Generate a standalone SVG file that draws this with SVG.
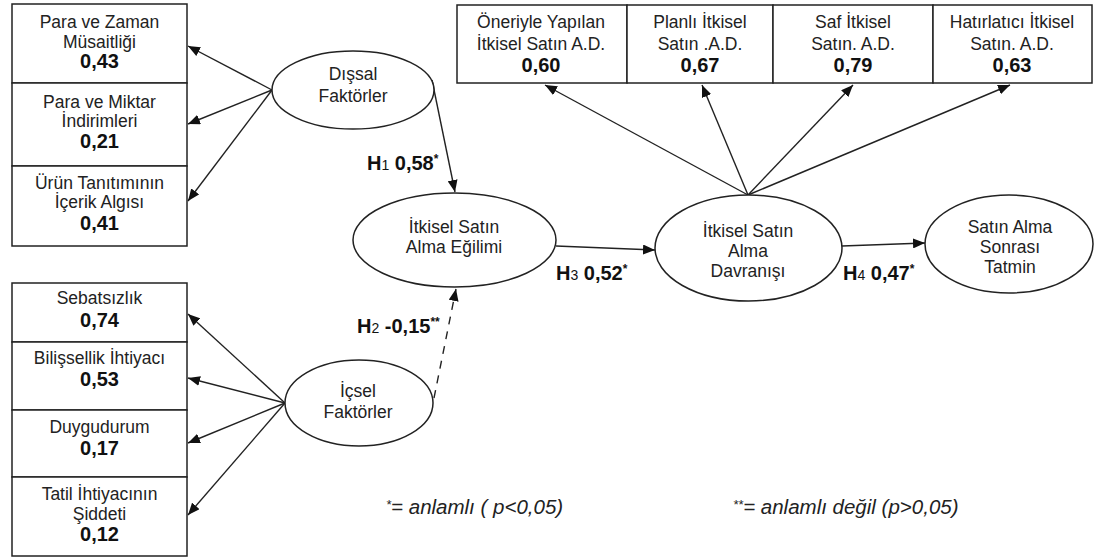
<svg xmlns="http://www.w3.org/2000/svg" width="1094" height="558" viewBox="0 0 1094 558">
<style>
.bg{fill:#fff}
.box{fill:#fff;stroke:#222;stroke-width:1.5}
.ell{fill:#fff;stroke:#222;stroke-width:1.5}
.t{font-family:"Liberation Sans",Arial,sans-serif;font-size:17.5px;fill:#222;text-anchor:middle}
.n{font-family:"Liberation Sans",Arial,sans-serif;font-size:20px;font-weight:bold;fill:#111;text-anchor:middle}
.h{font-family:"Liberation Sans",Arial,sans-serif;font-size:20px;font-weight:bold;fill:#111}
.lg{font-family:"Liberation Sans",Arial,sans-serif;font-size:20.5px;font-style:italic;fill:#222}
.c{stroke:#222;stroke-width:1.4;fill:none;marker-end:url(#ah)}
.d{stroke-dasharray:8 7}
</style>
<defs>
<marker id="ah" markerUnits="userSpaceOnUse" markerWidth="14" markerHeight="10" refX="12" refY="5" orient="auto">
<path d="M0,0 L12,5 L0,10 Z" fill="#111"/>
</marker>
</defs>
<rect class="bg" x="0" y="0" width="1094" height="558"/>

<g id="connectors">
<line class="c" x1="272" y1="90" x2="188" y2="46"/>
<line class="c" x1="272" y1="90" x2="188" y2="124"/>
<line class="c" x1="272" y1="90" x2="188" y2="201"/>
<line class="c" x1="432" y1="80" x2="455" y2="192"/>
<line class="c" x1="285" y1="403" x2="188" y2="314"/>
<line class="c" x1="285" y1="403" x2="188" y2="378"/>
<line class="c" x1="285" y1="403" x2="188" y2="443"/>
<line class="c" x1="285" y1="403" x2="188" y2="515"/>
<line class="c d" x1="434" y1="398" x2="456" y2="289"/>
<line class="c" x1="556" y1="246" x2="655" y2="250"/>
<line class="c" x1="748" y1="195" x2="545" y2="85"/>
<line class="c" x1="748" y1="195" x2="702" y2="85"/>
<line class="c" x1="748" y1="195" x2="853" y2="85"/>
<line class="c" x1="748" y1="195" x2="1010" y2="85"/>
<line class="c" x1="842" y1="246" x2="925" y2="243"/>
</g>

<g id="box-para-zaman">
<rect class="box" x="12" y="4" width="175" height="79"/>
<text class="t" x="99.5" y="28">Para ve Zaman</text>
<text class="t" x="99.5" y="48">Müsaitliği</text>
<text class="n" x="99.5" y="68">0,43</text>
</g>
<g id="box-para-miktar">
<rect class="box" x="12" y="83" width="175" height="83"/>
<text class="t" x="99.5" y="108">Para ve Miktar</text>
<text class="t" x="99.5" y="127">İndirimleri</text>
<text class="n" x="99.5" y="148">0,21</text>
</g>
<g id="box-urun">
<rect class="box" x="12" y="166" width="175" height="80"/>
<text class="t" x="99.5" y="189">Ürün Tanıtımının</text>
<text class="t" x="99.5" y="208">İçerik Algısı</text>
<text class="n" x="99.5" y="230">0,41</text>
</g>

<g id="box-sebat">
<rect class="box" x="12" y="283" width="175" height="59"/>
<text class="t" x="99.5" y="304">Sebatsızlık</text>
<text class="n" x="99.5" y="327">0,74</text>
</g>
<g id="box-bilis">
<rect class="box" x="12" y="342" width="175" height="68"/>
<text class="t" x="99.5" y="364">Bilişsellik İhtiyacı</text>
<text class="n" x="99.5" y="386">0,53</text>
</g>
<g id="box-duygu">
<rect class="box" x="12" y="410" width="175" height="67"/>
<text class="t" x="99.5" y="433">Duygudurum</text>
<text class="n" x="99.5" y="455">0,17</text>
</g>
<g id="box-tatil">
<rect class="box" x="12" y="477" width="175" height="79"/>
<text class="t" x="99.5" y="500">Tatil İhtiyacının</text>
<text class="t" x="99.5" y="520">Şiddeti</text>
<text class="n" x="99.5" y="541">0,12</text>
</g>

<g id="box-oneriyle">
<rect class="box" x="457" y="5" width="170" height="78"/>
<text class="t" x="541" y="28">Öneriyle Yapılan</text>
<text class="t" x="541" y="50">İtkisel Satın A.D.</text>
<text class="n" x="541" y="72">0,60</text>
</g>
<g id="box-planli">
<rect class="box" x="627" y="5" width="146" height="78"/>
<text class="t" x="700" y="28">Planlı İtkisel</text>
<text class="t" x="700" y="50">Satın .A.D.</text>
<text class="n" x="700" y="72">0,67</text>
</g>
<g id="box-saf">
<rect class="box" x="773" y="5" width="160" height="78"/>
<text class="t" x="853" y="28">Saf İtkisel</text>
<text class="t" x="853" y="50">Satın. A.D.</text>
<text class="n" x="853" y="72">0,79</text>
</g>
<g id="box-hatirlatici">
<rect class="box" x="933" y="5" width="159" height="78"/>
<text class="t" x="1012" y="28">Hatırlatıcı İtkisel</text>
<text class="t" x="1012" y="50">Satın. A.D.</text>
<text class="n" x="1012" y="72">0,63</text>
</g>

<g id="node-dissal">
<ellipse class="ell" cx="353" cy="90" rx="81" ry="39"/>
<text class="t" x="353" y="80">Dışsal</text>
<text class="t" x="353" y="102">Faktörler</text>
</g>
<g id="node-icsel">
<ellipse class="ell" cx="359" cy="403" rx="74" ry="43"/>
<text class="t" x="358" y="397">İçsel</text>
<text class="t" x="358" y="418">Faktörler</text>
</g>
<g id="node-egilim">
<ellipse class="ell" cx="454.5" cy="240" rx="101.5" ry="47"/>
<text class="t" x="454" y="233">İtkisel Satın</text>
<text class="t" x="454" y="253">Alma Eğilimi</text>
</g>
<g id="node-davranis">
<ellipse class="ell" cx="748.5" cy="248" rx="93.5" ry="53"/>
<text class="t" x="748" y="237">İtkisel Satın</text>
<text class="t" x="748" y="257">Alma</text>
<text class="t" x="748" y="277">Davranışı</text>
</g>
<g id="node-tatmin">
<ellipse class="ell" cx="1009" cy="244" rx="84" ry="49"/>
<text class="t" x="1010" y="233">Satın Alma</text>
<text class="t" x="1010" y="253">Sonrası</text>
<text class="t" x="1010" y="273">Tatmin</text>
</g>

<g id="labels">
<text class="h" x="367" y="170">H<tspan font-size="14" font-weight="normal">1</tspan> 0,58<tspan font-size="12" dy="-7">*</tspan></text>
<text class="h" x="357" y="333">H<tspan font-size="14" font-weight="normal">2</tspan> -0,15<tspan font-size="12" dy="-7">**</tspan></text>
<text class="h" x="556" y="280">H<tspan font-size="14" font-weight="normal">3</tspan> 0,52<tspan font-size="12" dy="-7">*</tspan></text>
<text class="h" x="843" y="280">H<tspan font-size="14" font-weight="normal">4</tspan> 0,47<tspan font-size="12" dy="-7">*</tspan></text>
<text class="lg" x="386" y="514"><tspan font-size="13" dy="-5">*</tspan><tspan dy="5">= anlamlı ( p&lt;0,05)</tspan></text>
<text class="lg" x="733" y="514"><tspan font-size="13" dy="-5">**</tspan><tspan dy="5">= anlamlı değil (p&gt;0,05)</tspan></text>
</g>
</svg>
